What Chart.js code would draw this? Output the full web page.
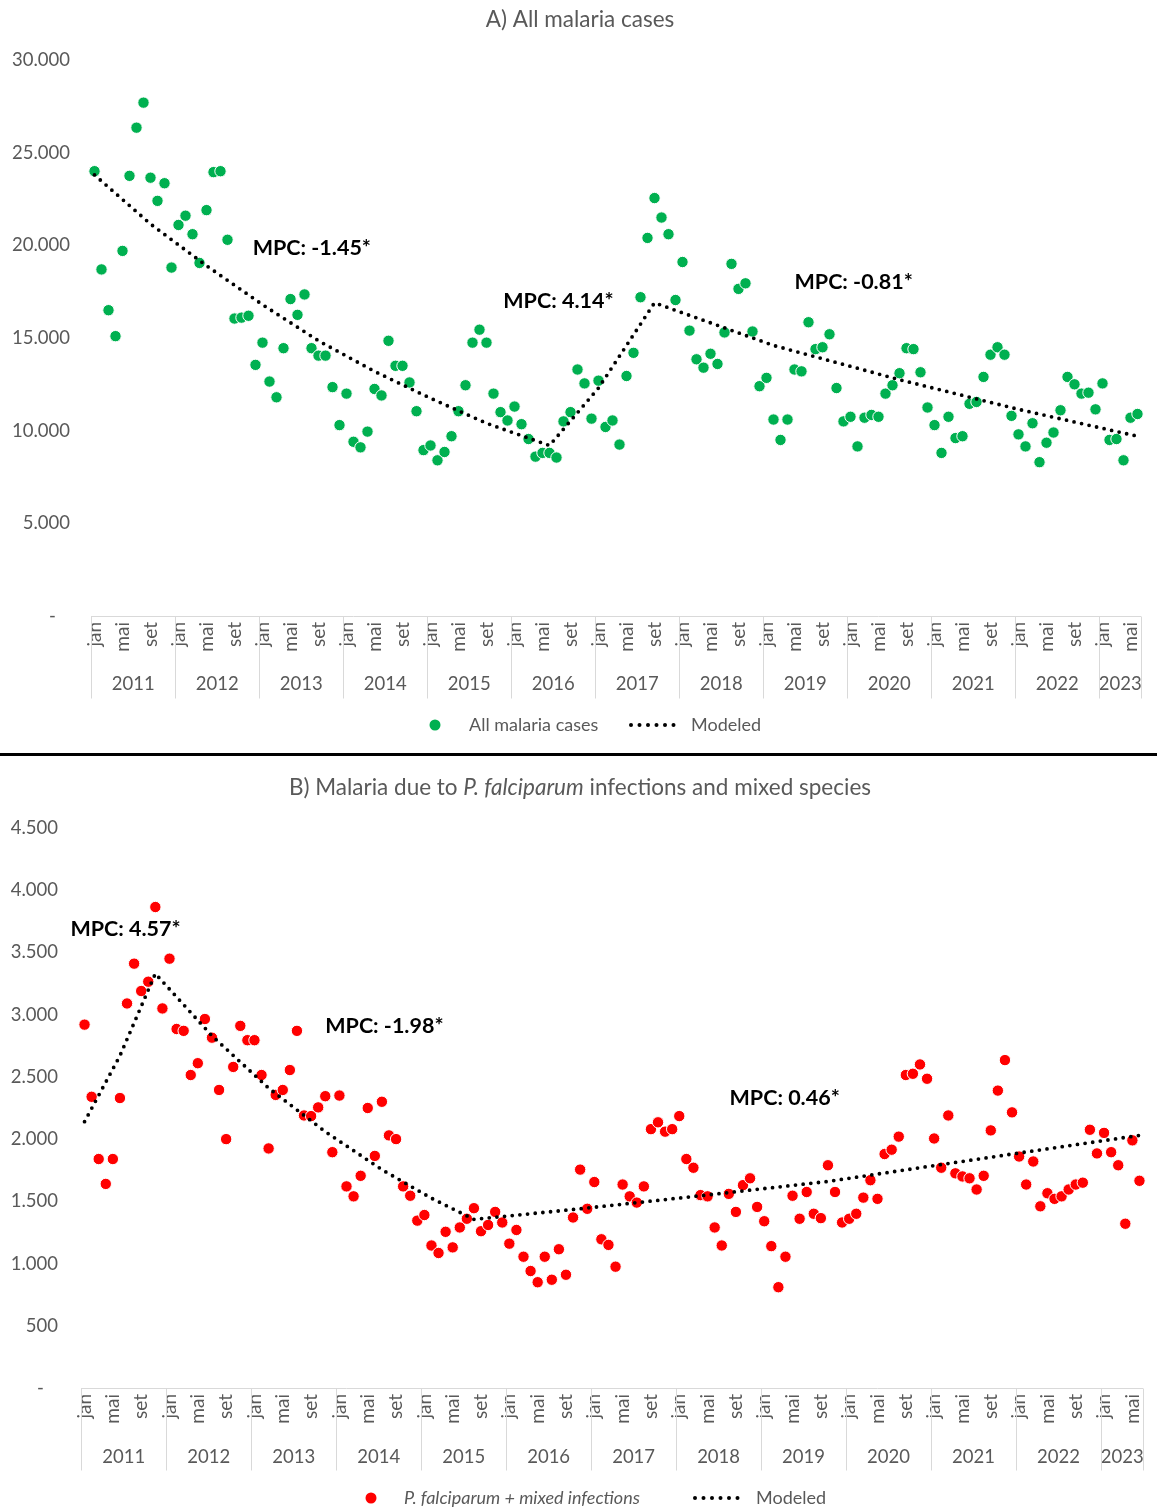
<!DOCTYPE html>
<html>
<head>
<meta charset="utf-8">
<script src="https://cdn.jsdelivr.net/npm/chart.js@4.4.1/dist/chart.umd.min.js"></script>
<style>
  body { margin: 0; background: #fff; }
  canvas { display: block; }
  #sep { height: 3px; background: #000; }
</style>
</head>
<body>
<canvas id="chartA" width="1157" height="753"></canvas>
<div id="sep"></div>
<canvas id="chartB" width="1157" height="754"></canvas>
<script>
Chart.defaults.font.family = "Lato";
Chart.defaults.color = "#595959";

// meses e anos do eixo x
const monthNames = ["jan", "fev", "mar", "abr", "mai", "jun", "jul", "ago", "set", "out", "nov", "dez"];
const years = ["2011", "2012", "2013", "2014", "2015", "2016", "2017", "2018", "2019", "2020", "2021", "2022", "2023"];
const monthsPerYear = [12, 12, 12, 12, 12, 12, 12, 12, 12, 12, 12, 12, 6];

// A) todos os casos, jan/2011 .. jun/2023
const allCases = [
  24000, 18700, 16500, 15100, 19700, 23750, 26350, 27700, 23650, 22400, 23350, 18800,
  21100, 21600, 20600, 19050, 21900, 23950, 24000, 20300, 16050, 16100, 16200, 13550,
  14750, 12650, 11800, 14450, 17100, 16250, 17350, 14450, 14050, 14050, 12350, 10300,
  12000, 9400, 9100, 9950, 12250, 11900, 14850, 13500, 13500, 12600, 11050, 8950,
  9200, 8400, 8850, 9700, 11050, 12450, 14750, 15450, 14750, 12000, 11000, 10550,
  11300, 10350, 9550, 8600, 8800, 8800, 8550, 10500, 11000, 13300, 12550, 10650,
  12700, 10200, 10550, 9250, 12950, 14200, 17200, 20400, 22550, 21500, 20600, 17050,
  19100, 15400, 13850, 13400, 14150, 13600, 15300, 19000, 17650, 17950, 15350, 12400,
  12850, 10600, 9500, 10600, 13300, 13200, 15850, 14400, 14500, 15200, 12300, 10500,
  10750, 9150, 10700, 10850, 10750, 12000, 12450, 13100, 14450, 14400, 13150, 11250,
  10300, 8800, 10750, 9600, 9700, 11450, 11550, 12900, 14100, 14500, 14100, 10800,
  9800, 9150, 10400, 8300, 9350, 9900, 11100, 12900, 12500, 12000, 12050, 11150,
  12550, 9500, 9550, 8400, 10700, 10900
];

// B) P. falciparum + mistas
const falciparum = [
  2920, 2340, 1840, 1640, 1840, 2330, 3090, 3410, 3190, 3265, 3865, 3050,
  3450, 2885, 2870, 2515, 2610, 2965, 2815, 2395, 2000, 2580, 2910, 2795,
  2795, 2515, 1925, 2355, 2395, 2555, 2870, 2190, 2185, 2255, 2345, 1895,
  2350, 1620, 1540, 1705, 2250, 1865, 2300, 2030, 2000, 1620, 1545, 1345,
  1390, 1145, 1085, 1255, 1130, 1290, 1360, 1445, 1260, 1310, 1415, 1330,
  1160, 1270, 1055, 940, 850, 1055, 870, 1115, 910, 1370, 1755, 1440,
  1655, 1195, 1150, 975, 1635, 1540, 1490, 1620, 2080, 2135, 2060, 2080,
  2185, 1840, 1770, 1550, 1540, 1290, 1145, 1560, 1415, 1630, 1685, 1455,
  1340, 1140, 810, 1055, 1545, 1360, 1575, 1400, 1365, 1790, 1575, 1330,
  1360, 1400, 1530, 1670, 1520, 1880, 1915, 2020, 2515, 2525, 2600, 2485,
  2005, 1770, 2190, 1725, 1700, 1685, 1595, 1705, 2070, 2390, 2635, 2215,
  1860, 1635, 1820, 1460, 1565, 1520, 1540, 1595, 1635, 1650, 2075, 1885,
  2050, 1895, 1790, 1320, 1990, 1665
];

const modeledAMonths = [0, 8, 16, 24, 32, 40, 48, 56, 65, 72, 80, 97, 115, 132, 149];
const modeledAValues = [23800, 21150, 18900, 16800, 14850, 13200, 11750, 10400, 9200, 12300, 16900, 14600, 12750, 11150, 9700];
const modeledBMonths = [0, 5, 10, 18, 26, 34, 42, 49, 55, 70, 87, 105, 131, 149];
const modeledBValues = [2140, 2670, 3330, 2830, 2410, 2060, 1755, 1525, 1355, 1440, 1545, 1660, 1880, 2030];

const labels = [];
years.forEach(function (yr, k) {
  for (let m = 0; m < monthsPerYear[k]; m++) labels.push(monthNames[m]);
});

function sparse(months, values) {
  const out = labels.map(function () { return null; });
  months.forEach(function (m, k) { out[m] = values[k]; });
  return out;
}

function fmt(v) {
  if (v === 0) return "-   ";
  return String(v).replace(/\B(?=(\d{3})+(?!\d))/g, ".");
}

// titulo, blocos de ano, legenda e rotulos MPC
const decoPlugin = {
  id: "deco",
  afterDraw(chart, args, o) {
    const ctx = chart.ctx;
    const a = chart.chartArea;
    const xs = chart.scales.x, ys = chart.scales.y;
    ctx.save();

    // linha do eixo e divisoes dos anos
    const yb = Math.round(a.bottom) + 0.5;
    ctx.strokeStyle = "#d9d9d9";
    ctx.lineWidth = 1;
    ctx.beginPath();
    ctx.moveTo(a.left, yb);
    ctx.lineTo(a.right, yb);
    ctx.font = "18.5px Lato";
    ctx.fillStyle = "#595959";
    ctx.textAlign = "center";
    ctx.textBaseline = "middle";
    let start = 0;
    years.forEach(function (yr, k) {
      const x0 = Math.round(xs.getPixelForValue(start - 0.5)) + 0.5;
      const x1 = xs.getPixelForValue(start + monthsPerYear[k] - 0.5);
      ctx.moveTo(x0, yb);
      ctx.lineTo(x0, yb + o.sepLength);
      ctx.fillText(yr, (x0 + x1) / 2, a.bottom + o.yearOffset);
      start += monthsPerYear[k];
    });
    const xe = Math.round(a.right) + 0.5;
    ctx.moveTo(xe, yb);
    ctx.lineTo(xe, yb + o.sepLength);
    ctx.stroke();

    // titulo (com partes em italico)
    let total = 0;
    o.title.forEach(function (p) {
      ctx.font = (p.italic ? "italic " : "") + "22.5px Lato";
      p.w = ctx.measureText(p.text).width;
      total += p.w;
    });
    let tx = o.titleX - total / 2;
    ctx.textAlign = "left";
    o.title.forEach(function (p) {
      ctx.font = (p.italic ? "italic " : "") + "22.5px Lato";
      ctx.fillText(p.text, tx, o.titleY);
      tx += p.w;
    });

    // rotulos MPC
    ctx.fillStyle = "#000";
    ctx.font = "bold 21.5px Lato";
    o.notes.forEach(function (n) {
      ctx.fillText(n.text, xs.getPixelForValue(n.month), ys.getPixelForValue(n.value));
    });

    // legenda
    o.legend.forEach(function (it) {
      if (it.type === "dot") {
        ctx.fillStyle = it.color;
        ctx.beginPath();
        ctx.arc(it.x, o.legendY, 5.5, 0, Math.PI * 2);
        ctx.fill();
      } else if (it.type === "dots") {
        ctx.fillStyle = "#000";
        for (let px = it.x1; px <= it.x2; px += 8.5) {
          ctx.beginPath();
          ctx.arc(px, o.legendY, 2, 0, Math.PI * 2);
          ctx.fill();
        }
      } else {
        ctx.fillStyle = "#595959";
        ctx.font = (it.italic ? "italic " : "") + "18px Lato";
        ctx.fillText(it.text, it.x, o.legendY);
      }
    });
    ctx.restore();
  }
};

function makeChart(id, cfg) {
  return new Chart(document.getElementById(id), {
    type: "line",
    data: {
      labels: labels,
      datasets: [
        {
          label: "Modeled",
          data: cfg.modeled,
          borderColor: "#000",
          borderWidth: 3.8,
          borderDash: [0, 7.7],
          borderCapStyle: "round",
          pointRadius: 0,
          spanGaps: true,
          tension: 0,
          order: 0
        },
        {
          label: cfg.seriesName,
          data: cfg.values,
          showLine: false,
          pointRadius: 5.7,
          pointBackgroundColor: cfg.color,
          pointBorderColor: "#fff",
          pointBorderWidth: 1,
          order: 1
        }
      ]
    },
    options: {
      responsive: false,
      animation: false,
      layout: { padding: cfg.padding },
      plugins: {
        legend: { display: false },
        title: { display: false },
        tooltip: { enabled: false },
        deco: cfg.deco
      },
      scales: {
        x: {
          type: "category",
          offset: true,
          grid: { display: false, drawTicks: false },
          border: { display: false },
          ticks: {
            autoSkip: false,
            minRotation: 90,
            maxRotation: 90,
            padding: 6,
            font: { size: 19 },
            color: "#595959",
            callback: function (v, i) {
              return i % 4 === 0 ? labels[i] : "";
            }
          },
          afterFit: function (s) {
            s.height = 90;
            s.paddingLeft = 0;
            s.paddingRight = 0;
          }
        },
        y: {
          min: 0,
          max: cfg.yMax,
          grid: { display: false, drawTicks: false },
          border: { display: false },
          ticks: {
            stepSize: cfg.yStep,
            padding: cfg.yPad,
            font: { size: 18.5 },
            color: "#595959",
            callback: fmt
          },
          afterFit: function (s) { s.width = cfg.yWidth; }
        }
      }
    },
    plugins: [decoPlugin]
  });
}

makeChart("chartA", {
  seriesName: "All malaria cases",
  values: allCases,
  modeled: sparse(modeledAMonths, modeledAValues),
  color: "#00B050",
  yMax: 30000,
  yStep: 5000,
  yWidth: 91,
  yPad: 21,
  padding: { top: 60, right: 16, bottom: 47, left: 0 },
  deco: {
    title: [{ text: "A) All malaria cases" }],
    titleX: 580,
    titleY: 20,
    yearOffset: 68,
    sepLength: 82,
    notes: [
      { text: "MPC: -1.45*", month: 22.6, value: 19840 },
      { text: "MPC: 4.14*", month: 58.4, value: 16970 },
      { text: "MPC: -0.81*", month: 100, value: 18000 }
    ],
    legendY: 725,
    legend: [
      { type: "dot", color: "#00B050", x: 435 },
      { type: "text", text: "All malaria cases", x: 469 },
      { type: "dots", x1: 631, x2: 678 },
      { type: "text", text: "Modeled", x: 691 }
    ]
  }
});

makeChart("chartB", {
  seriesName: "P. falciparum + mixed infections",
  values: falciparum,
  modeled: sparse(modeledBMonths, modeledBValues),
  color: "#FF0000",
  yMax: 4500,
  yStep: 500,
  yWidth: 81,
  yPad: 23,
  padding: { top: 72, right: 14, bottom: 32, left: 0 },
  deco: {
    title: [
      { text: "B) Malaria due to " },
      { text: "P. falciparum", italic: true },
      { text: " infections and mixed species" }
    ],
    titleX: 580,
    titleY: 32,
    yearOffset: 69,
    sepLength: 82,
    notes: [
      { text: "MPC: 4.57*", month: -2, value: 3690 },
      { text: "MPC: -1.98*", month: 34, value: 2910 },
      { text: "MPC: 0.46*", month: 91.1, value: 2331 }
    ],
    legendY: 742,
    legend: [
      { type: "dot", color: "#FF0000", x: 371 },
      { type: "text", text: "P. falciparum + mixed infections", x: 404, italic: true },
      { type: "dots", x1: 695, x2: 744 },
      { type: "text", text: "Modeled", x: 756 }
    ]
  }
});
</script>
</body>
</html>
